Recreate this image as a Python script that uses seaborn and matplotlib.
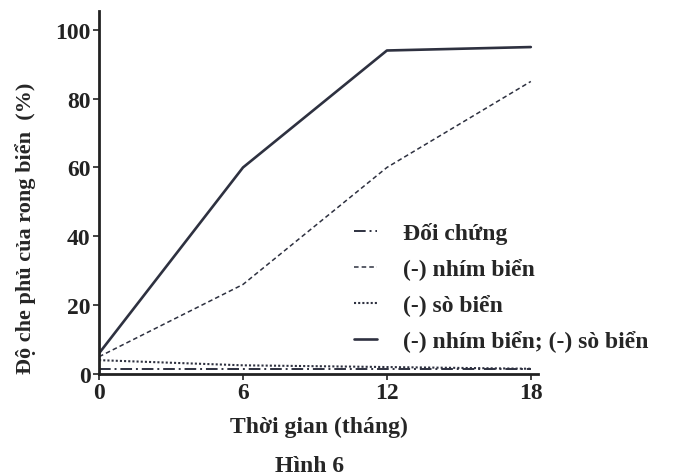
import matplotlib.pyplot as plt
import seaborn as sns
import pandas as pd

sns.set_style("ticks")
plt.rcParams['font.family'] = ['Liberation Serif', 'DejaVu Serif']
plt.rcParams['font.weight'] = 'bold'

months = [0, 6, 12, 18]
doi_chung = [1.5, 1.5, 1.5, 1.5]
nhim_bien = [5, 26, 60, 85]
so_bien = [4, 2.5, 2, 1.5]
ca_hai = [6, 60, 94, 95]

labels = ["Đối chứng", "(-) nhím biển", "(-) sò biển", "(-) nhím biển; (-) sò biển"]
series = [doi_chung, nhim_bien, so_bien, ca_hai]
styles = [(0, (6, 2, 1, 2)), (0, (3, 2)), (0, (1, 1)), '-']
widths = [1.4, 1.1, 1.5, 1.9]

df = pd.DataFrame({"month": months * 4,
                   "value": sum(series, []),
                   "group": [l for l in labels for _ in months]})

fig = plt.figure(figsize=(6.88, 4.77), dpi=100)
ax = fig.add_axes([0.144, 0.214, 0.638, 0.761])

color = "#2e3140"
for lab, ls, lw in zip(labels, styles, widths):
    sub = df[df["group"] == lab]
    sns.lineplot(data=sub, x="month", y="value", ax=ax, color=color,
                 linestyle=ls, linewidth=lw, label=lab)

ax.set_xlim(0, 18.3)
ax.set_ylim(0, 105.5)
ax.set_xticks(months)
ax.set_yticks([0, 20, 40, 60, 80, 100])
ax.tick_params(labelsize=17, width=1.2, length=4, pad=2, colors="#222222")
for lab in ax.get_xticklabels() + ax.get_yticklabels():
    lab.set_fontweight('bold')
sns.despine(ax=ax)
for side in ['left', 'bottom']:
    ax.spines[side].set_linewidth(2)
    ax.spines[side].set_color("#222222")

ax.set_xlabel("Thời gian (tháng)", fontsize=17, fontweight='bold', labelpad=9)
ax.set_ylabel("Độ che phủ của rong biển  (%)", fontsize=16, fontweight='bold')
ax.yaxis.set_label_coords(-0.143, 0.405)

ax.legend(loc='lower left', bbox_to_anchor=(0.58, 0.06), frameon=False,
          borderaxespad=0, borderpad=0, handlelength=1.0, handletextpad=1.1,
          labelspacing=0.6, prop={'weight': 'bold', 'size': 17})

fig.text(0.45, 0.01, "Hình 6", fontsize=17, fontweight='bold', ha='center')

fig.savefig("out.png", dpi=100)
